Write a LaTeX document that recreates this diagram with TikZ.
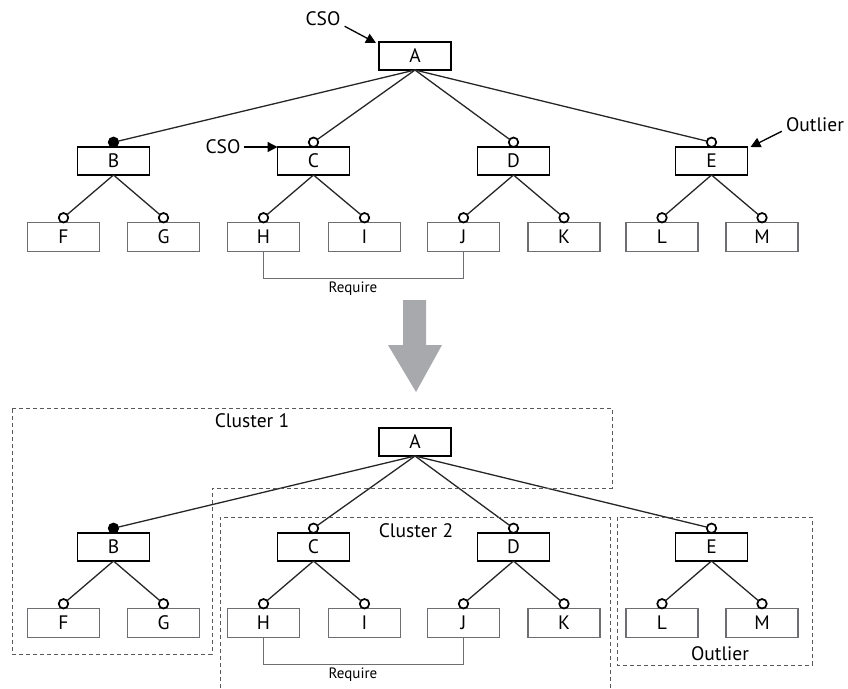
\documentclass[tikz,border=0pt]{standalone}
\usepackage{fontspec}
\setmainfont{PT Sans}
\usetikzlibrary{arrows.meta,calc}
\definecolor{bigarrow}{HTML}{A7A9AC}
\definecolor{leafline}{HTML}{6D6E71}
\tikzset{
  feat/.style={draw=black, line width=1.9pt, minimum width=72pt, minimum height=28pt,
    inner sep=0pt, outer sep=0pt, font=\fontsize{19.5}{22}\selectfont},
  leaf/.style={draw=leafline, line width=1.3pt, minimum width=72pt, minimum height=29pt,
    inner sep=0pt, outer sep=0pt, font=\fontsize{19.5}{22}\selectfont},
  optc/.style={circle, draw=black, line width=1.7pt, fill=white, minimum size=9.5pt,
    inner sep=0pt, outer sep=0pt},
  mandc/.style={optc, fill=black},
  edge/.style={line width=1.3pt, draw=black!85},
  reqline/.style={line width=1.3pt, draw=leafline},
  ann/.style={font=\fontsize{19.5}{22}\selectfont, inner sep=0pt},
  reqtext/.style={font=\fontsize{15}{17}\selectfont, inner sep=0pt},
  annarrow/.style={line width=1.3pt, -{Triangle[length=10pt,width=10pt]}},
  cluster/.style={dash pattern=on 4pt off 3pt, draw=black!65, line width=1pt},
}
% one feature tree; #1 is the prefix of its node names
\newcommand\featuretree[1]{%
  \node[feat] (#1A) at (415,56) {A};
  \node[feat] (#1B) at (113.5,161) {B};
  \node[feat] (#1C) at (313.5,161) {C};
  \node[feat] (#1D) at (513.5,161) {D};
  \node[feat] (#1E) at (711.5,161) {E};
  \node[leaf] (#1F) at (63.5,237) {F};
  \node[leaf] (#1G) at (163.5,237) {G};
  \node[leaf] (#1H) at (263.5,237) {H};
  \node[leaf] (#1I) at (364.5,237) {I};
  \node[leaf] (#1J) at (463.5,237) {J};
  \node[leaf] (#1K) at (564,237) {K};
  \node[leaf] (#1L) at (662,237) {L};
  \node[leaf] (#1M) at (762,237) {M};
  \node[mandc, anchor=south] (#1cB) at (#1B.north) {};
  \foreach \n in {C,D,E,F,G,H,I,J,K,L,M}
    \node[optc, anchor=south] (#1c\n) at (#1\n.north) {};
  \foreach \n in {B,C,D,E} \draw[edge] (#1A.south) -- (#1c\n);
  \draw[edge] (#1B.south) -- (#1cF);
  \draw[edge] (#1B.south) -- (#1cG);
  \draw[edge] (#1C.south) -- (#1cH);
  \draw[edge] (#1C.south) -- (#1cI);
  \draw[edge] (#1D.south) -- (#1cJ);
  \draw[edge] (#1D.south) -- (#1cK);
  \draw[edge] (#1E.south) -- (#1cL);
  \draw[edge] (#1E.south) -- (#1cM);
  \draw[reqline] (#1H.south) -- ++(0,27) -| (#1J.south);
  \node[reqtext] (#1req) at (353,289) {Require};
}
\begin{document}
\begin{tikzpicture}[x=1pt,y=-1pt]
  \useasboundingbox (0,0) rectangle (848,688);
  % original model with annotations
  \featuretree{t}
  \node[ann] (cso1) at (323,19) {CSO};
  \draw[annarrow] ($(cso1.south east)+(4,0)$) -- ($(tA.north west)+(-3,1)$);
  \node[ann] (cso2) at (223,147) {CSO};
  \draw[annarrow] ($(cso2.east)+(3,0)$) -- (tC.west |- cso2);
  \node[ann] (out1) at (815,125) {Outlier};
  \draw[annarrow] ($(out1.south west)+(-4,-1)$) -- ($(tE.north east)+(3,0)$);
  % transformation arrow
  \fill[bigarrow] (403,300) -- (426,300) -- (426,345) -- (442,345) -- (416,392)
    -- (388,345) -- (403,345) -- cycle;
  % clustered model
  \begin{scope}[shift={(0,386)}]
    \featuretree{b}
  \end{scope}
  \draw[cluster] (12,408) -- (612,408) -- (612,488) -- (212,488) -- (212,654)
    -- (12,654) -- cycle;
  \draw[cluster] (220,688) -- (220,517) -- (610,517) -- (610,688);
  \draw[cluster] (617,517) rectangle (812,665);
  \node[ann] (cl1) at (252,421) {Cluster 1};
  \node[ann] (cl2) at (416,531) {Cluster 2};
  \node[ann] (out2) at (720,654) {Outlier};
\end{tikzpicture}
\end{document}
